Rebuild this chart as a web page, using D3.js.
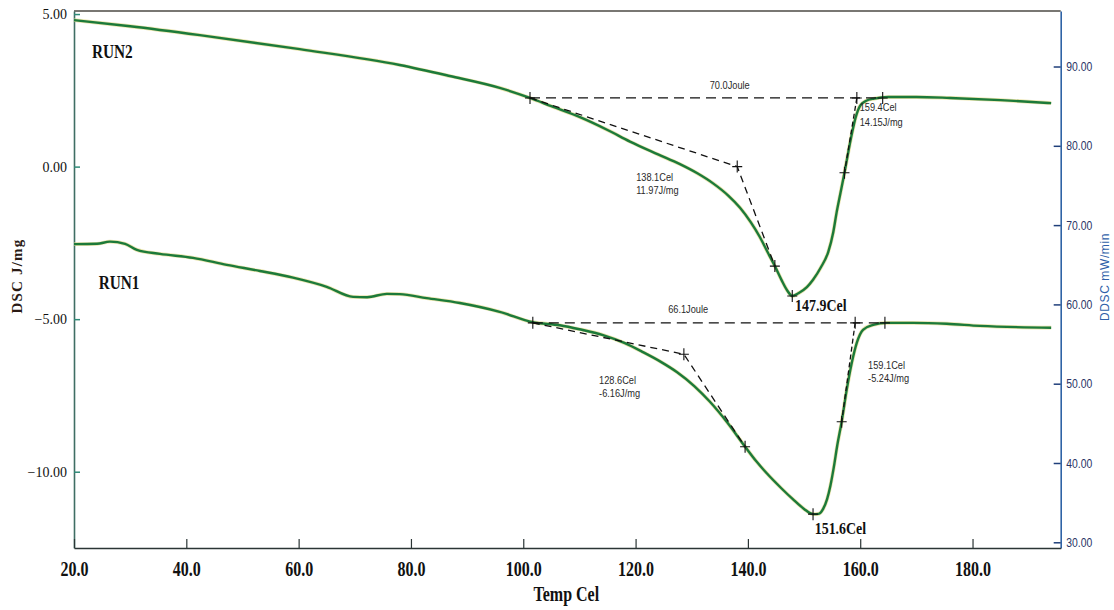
<!DOCTYPE html>
<meta charset="utf-8">
<script src="https://d3js.org/d3.v7.min.js"></script>
<style>
  body { margin: 0; background: #fff; }
</style>
<div id="chart"></div>
<script>

// DSC curves (Temp Cel vs DSC J/mg)
var run2Temp = [20, 30, 42.4, 60.2, 78, 86.9, 95.8, 101.2, 105, 110.1, 115, 119, 124, 127.9, 131, 133.8, 136.5, 138.6, 140.5, 142.1, 143.5, 144.8, 146, 147, 147.9, 149, 150.5, 151.6, 153, 154.3, 155.2, 155.8, 156.5, 157.2, 158, 158.6, 159.2, 160, 161, 162.5, 165, 170, 176, 185, 194];
var run2Dsc  = [4.80, 4.60, 4.31, 3.85, 3.33, 2.97, 2.58, 2.25, 1.98, 1.62, 1.20, 0.82, 0.40, 0.08, -0.22, -0.55, -0.95, -1.35, -1.82, -2.30, -2.80, -3.26, -3.72, -4.06, -4.24, -4.15, -3.95, -3.71, -3.30, -2.80, -2.15, -1.50, -0.85, -0.20, 0.60, 1.15, 1.62, 2.00, 2.15, 2.23, 2.28, 2.28, 2.25, 2.18, 2.08];

var run1Temp = [20, 24.1, 26.4, 29.1, 31.2, 35.3, 41.2, 47.2, 53.1, 59, 65, 69.7, 72.2, 75.7, 78, 82.8, 88.7, 95.8, 101.7, 106.5, 110, 114.2, 118, 121.3, 124.5, 127.4, 130.5, 133.2, 136.3, 139.5, 141.5, 143.4, 146, 148, 150, 151.6, 152.6, 153.4, 154.1, 154.7, 155.3, 155.9, 156.7, 157.6, 158.5, 159.4, 160.5, 162.3, 164.7, 169.4, 175.4, 181.3, 194];
var run1Dsc  = [-2.54, -2.53, -2.46, -2.53, -2.73, -2.86, -2.99, -3.22, -3.42, -3.64, -3.94, -4.27, -4.28, -4.17, -4.18, -4.31, -4.47, -4.76, -5.10, -5.20, -5.33, -5.52, -5.78, -6.08, -6.40, -6.74, -7.20, -7.70, -8.38, -9.18, -9.66, -10.06, -10.55, -10.90, -11.22, -11.39, -11.38, -11.22, -10.90, -10.45, -9.85, -9.15, -8.36, -7.31, -6.43, -5.77, -5.35, -5.19, -5.12, -5.12, -5.15, -5.22, -5.28];

// axis ticks
var xTicks = [20, 40, 60, 80, 100, 120, 140, 160, 180];
var yTicks = [5, 0, -5, -10];
var yRightTicks = [90, 80, 70, 60, 50, 40, 30];

// peak analysis marks (+) and construction lines
var run2CrossTemp = [101.2, 138.1, 144.8, 147.9, 157.2, 159.4, 164.0];
var run2CrossDsc  = [2.25, 0.0, -3.26, -4.24, -0.20, 2.25, 2.25];
var run1CrossTemp = [101.7, 128.6, 139.5, 151.6, 156.7, 159.1, 164.4];
var run1CrossDsc  = [-5.12, -6.15, -9.18, -11.39, -8.36, -5.12, -5.12];

var run2BaseTemp = [101.2, 164.0], run2BaseDsc = [2.25, 2.25];
var run1BaseTemp = [101.7, 164.4], run1BaseDsc = [-5.12, -5.12];
var run2LeftTanTemp = [101.2, 138.1, 144.8], run2LeftTanDsc = [2.25, 0.0, -3.26];
var run2RightTanTemp = [159.4, 157.2], run2RightTanDsc = [2.25, -0.20];
var run1LeftTanTemp = [101.7, 128.6, 139.5], run1LeftTanDsc = [-5.12, -6.15, -9.18];
var run1RightTanTemp = [159.1, 156.7], run1RightTanDsc = [-5.12, -8.36];

// small annotation texts: [temp, dsc, text]
var smallNotes = [
  [133.2, 2.55, "70.0Joule"],
  [125.8, -4.81, "66.1Joule"],
  [120.1, -0.47, "138.1Cel"],
  [120.1, -0.90, "11.97J/mg"],
  [159.9, 1.82, "159.4Cel"],
  [159.9, 1.33, "14.15J/mg"],
  [113.5, -7.12, "128.6Cel"],
  [113.5, -7.56, "-6.16J/mg"],
  [161.4, -6.63, "159.1Cel"],
  [161.4, -7.07, "-5.24J/mg"]
];
var peakNotes = [
  [148.4, -4.73, "147.9Cel"],
  [151.9, -12.03, "151.6Cel"]
];
var runNotes = [
  [23.2, 3.56, "RUN2"],
  [24.4, -4.00, "RUN1"]
];

var W = 1114, H = 610;
var svg = d3.select("#chart").append("svg")
    .attr("width", W)
    .attr("height", H);

var x = d3.scaleLinear().domain([20, 195.7]).range([74, 1060.7]);
var y = d3.scaleLinear().domain([5.1, -12.5]).range([11, 548]);
var yR = d3.scaleLinear().domain([97.0, 29.28]).range([11, 548]);

// top frame
svg.append("line")
  .attr("x1", x(20)).attr("x2", x(195.7))
  .attr("y1", y(5.1)).attr("y2", y(5.1))
  .attr("stroke", "#4d4a44").attr("stroke-width", 1.5);

// left axis
var gL = svg.append("g")
  .attr("transform", "translate(" + x(20) + ",0)")
  .call(d3.axisLeft(y).tickValues(yTicks).tickFormat(d3.format(".2f"))
        .tickSizeInner(-6).tickSizeOuter(0).tickPadding(7));
gL.select(".domain").attr("stroke", "#3f6e64").attr("stroke-width", 1.6);
gL.selectAll(".tick line").attr("stroke", "#2f8a78").attr("stroke-width", 1.5);
gL.selectAll(".tick text")
  .attr("font-family", "Liberation Serif, Times New Roman, serif")
  .attr("font-size", 14).attr("fill", "#111");

// right axis
var gR = svg.append("g")
  .attr("transform", "translate(" + x(195.7) + ",0)")
  .call(d3.axisRight(yR).tickValues(yRightTicks).tickFormat(d3.format(".2f"))
        .tickSizeInner(-7).tickSizeOuter(0).tickPadding(7));
gR.select(".domain").attr("stroke", "#2f63a6").attr("stroke-width", 1.6);
gR.selectAll(".tick line").attr("stroke", "#1f3f7a").attr("stroke-width", 1.5);
gR.selectAll(".tick text")
  .attr("font-family", "Liberation Sans, Arial, sans-serif")
  .attr("font-size", 13).attr("fill", "#2a3566")
  .attr("transform", "scale(0.8,1)");

// bottom axis
var gB = svg.append("g")
  .attr("transform", "translate(0," + y(-12.5) + ")")
  .call(d3.axisBottom(x).tickValues(xTicks).tickFormat(d3.format(".1f"))
        .tickSizeInner(-9).tickSizeOuter(0).tickPadding(14));
gB.select(".domain").attr("stroke", "#2b3535").attr("stroke-width", 1.6);
gB.selectAll(".tick line").attr("stroke", "#2b3535").attr("stroke-width", 1.2);
gB.selectAll(".tick text")
  .attr("font-family", "Liberation Serif, Times New Roman, serif")
  .attr("font-weight", "bold")
  .attr("font-size", 20).attr("fill", "#111")
  .attr("transform", "scale(0.8,1)");

// axis titles
svg.append("text")
  .attr("transform", "translate(" + ((x(20) + x(195.7)) / 2 - 1) + ",601) scale(0.8,1)")
  .attr("text-anchor", "middle")
  .attr("font-family", "Liberation Serif, Times New Roman, serif")
  .attr("font-weight", "bold").attr("font-size", 20).attr("fill", "#111")
  .text("Temp Cel");

svg.append("text")
  .attr("transform", "translate(22,276) rotate(-90)")
  .attr("text-anchor", "middle")
  .attr("font-family", "Liberation Serif, Times New Roman, serif")
  .attr("font-weight", "bold").attr("font-size", 15).attr("fill", "#2a1a14")
  .attr("letter-spacing", 1.2)
  .text("DSC J/mg");

svg.append("text")
  .attr("transform", "translate(1109,277) rotate(-90)")
  .attr("text-anchor", "middle")
  .attr("font-family", "Liberation Sans, Arial, sans-serif")
  .attr("font-size", 12).attr("fill", "#2f5fa8")
  .attr("letter-spacing", 0.6)
  .text("DDSC mW/min");

// curves
var line = d3.line()
  .x(function(d) { return x(d[0]); })
  .y(function(d) { return y(d[1]); })
  .curve(d3.curveMonotoneX);

function drawRun(temps, dsc) {
  var pts = temps.map(function(t, i) { return [t, dsc[i]]; });
  svg.append("path").datum(pts)
    .attr("fill", "none").attr("stroke", "#e2d98a").attr("stroke-width", 3.8)
    .attr("stroke-opacity", 0.7).attr("d", line);
  svg.append("path").datum(pts)
    .attr("fill", "none").attr("stroke", "#1c7a3a").attr("stroke-width", 2.4)
    .attr("d", line);
}
drawRun(run2Temp, run2Dsc);
drawRun(run1Temp, run1Dsc);

// construction lines
var straight = d3.line()
  .x(function(d) { return x(d[0]); })
  .y(function(d) { return y(d[1]); });

function dashed(temps, dsc, dash) {
  var pts = temps.map(function(t, i) { return [t, dsc[i]]; });
  svg.append("path").datum(pts)
    .attr("fill", "none").attr("stroke", "#111").attr("stroke-width", 1.3)
    .attr("stroke-dasharray", dash).attr("d", straight);
}
dashed(run2BaseTemp, run2BaseDsc, "10,6");
dashed(run1BaseTemp, run1BaseDsc, "10,6");
dashed(run2LeftTanTemp, run2LeftTanDsc, "7,5");
dashed(run2RightTanTemp, run2RightTanDsc, "5,3");
dashed(run1LeftTanTemp, run1LeftTanDsc, "7,5");
dashed(run1RightTanTemp, run1RightTanDsc, "5,3");

// + marks
function crosses(temps, dsc) {
  temps.forEach(function(t, i) {
    var cx = x(t), cy = y(dsc[i]);
    svg.append("path")
      .attr("d", "M" + (cx - 5) + "," + cy + "H" + (cx + 5) + "M" + cx + "," + (cy - 6) + "V" + (cy + 6))
      .attr("stroke", "#111").attr("stroke-width", 1.1).attr("fill", "none");
  });
}
crosses(run2CrossTemp, run2CrossDsc);
crosses(run1CrossTemp, run1CrossDsc);

// annotation texts
smallNotes.forEach(function(n) {
  svg.append("text")
    .attr("transform", "translate(" + x(n[0]) + "," + y(n[1]) + ") scale(0.88,1)")
    .attr("font-family", "Liberation Sans, Tahoma, sans-serif")
    .attr("font-size", 10.5).attr("fill", "#2a2a2a")
    .text(n[2]);
});
peakNotes.forEach(function(n) {
  svg.append("text")
    .attr("transform", "translate(" + x(n[0]) + "," + y(n[1]) + ") scale(0.82,1)")
    .attr("font-family", "Liberation Serif, Times New Roman, serif")
    .attr("font-weight", "bold").attr("font-size", 17).attr("fill", "#111")
    .text(n[2]);
});
runNotes.forEach(function(n) {
  svg.append("text")
    .attr("transform", "translate(" + x(n[0]) + "," + y(n[1]) + ") scale(0.85,1)")
    .attr("font-family", "Liberation Serif, Times New Roman, serif")
    .attr("font-weight", "bold").attr("font-size", 18).attr("fill", "#111")
    .text(n[2]);
});

</script>
